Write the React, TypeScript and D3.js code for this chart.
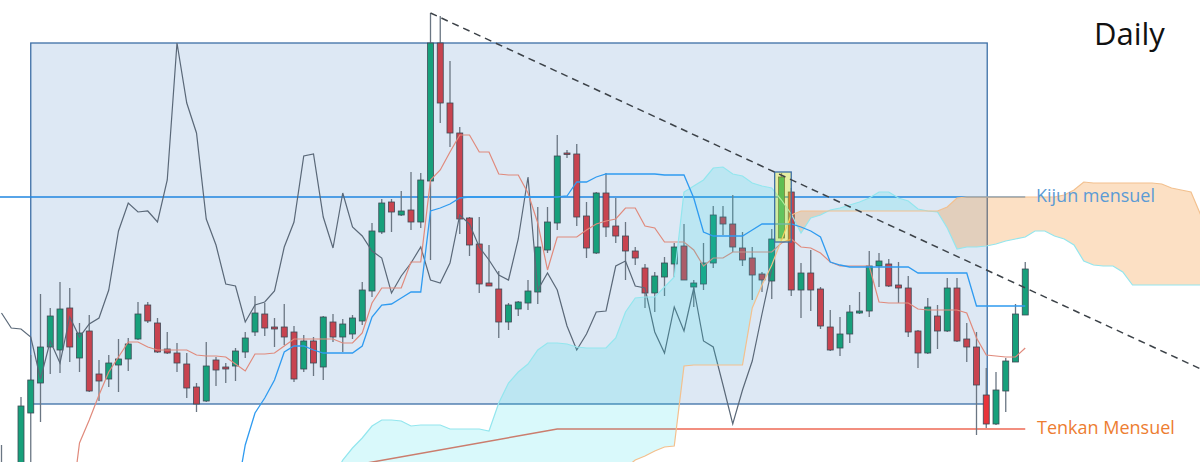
import { useEffect, useRef } from 'react';
import * as d3 from 'd3';

const W = 1200;
const H = 462;

// Bougies journalières (index 0..105), prix en unités du graphique
const opens = [
  -38, -28, -8, 49, 79, 115, 112, 154, 104, 131,
  88, 83, 97, 103, 123, 157, 139, 113, 109, 98,
  75, 61, 102, 95, 96, 110, 130, 148, 135, 135,
  130, 93, 121, 95, 140, 125, 128, 141, 171, 230,
  260, 247, 252, 240, 281, 419, 359, 329, 244, 218,
  179, 173, 140, 153, 159, 170, 212, 239, 309, 308,
  246, 209, 269, 236, 226, 211, 194, 169, 185, 198,
  216, 175, 178, 199, 245, 238, 214, 204, 188, 181,
  224, 270, 172, 189, 173, 135, 114, 128, 149, 151,
  196, 198, 177, 174, 131, 109, 146, 131, 174, 123,
  115, 67, 38, 71, 100, 147,
];
const highs = [
  17, -3, 65, 107, 168, 154, 180, 174, 139, 147,
  102, 107, 123, 124, 160, 160, 144, 130, 119, 109,
  79, 120, 105, 99, 114, 130, 166, 159, 144, 158,
  136, 127, 125, 146, 148, 143, 147, 180, 239, 263,
  263, 271, 290, 289, 449, 446, 401, 335, 245, 245,
  217, 191, 159, 161, 182, 255, 255, 327, 312, 318,
  260, 270, 289, 264, 240, 215, 198, 190, 205, 219,
  238, 182, 219, 256, 256, 267, 230, 215, 190, 233,
  289, 274, 199, 212, 175, 152, 145, 157, 170, 211,
  209, 203, 200, 186, 132, 164, 157, 184, 184, 139,
  130, 94, 90, 104, 158, 200,
];
const lows = [
  -48, -38, -18, -8, 40, 88, 89, 100, 90, 70,
  61, 75, 70, 91, 122, 139, 109, 108, 90, 64,
  50, 60, 76, 79, 81, 104, 126, 126, 115, 117,
  80, 90, 86, 82, 120, 110, 123, 137, 165, 228,
  230, 246, 232, 234, 202, 339, 315, 228, 206, 169,
  176, 124, 132, 146, 152, 158, 209, 232, 304, 236,
  204, 208, 225, 219, 182, 197, 154, 150, 166, 185,
  182, 155, 172, 194, 227, 210, 196, 162, 170, 163,
  222, 166, 144, 151, 133, 111, 106, 119, 148, 145,
  175, 175, 159, 125, 94, 108, 113, 130, 120, 100,
  27, 34, 37, 50, 100, 147,
];
const closes = [
  -8, -13, 56, 82, 115, 146, 153, 115, 129, 71,
  81, 99, 103, 118, 148, 141, 110, 109, 99, 74,
  58, 96, 92, 93, 111, 124, 149, 134, 133, 125,
  83, 121, 99, 145, 125, 138, 144, 172, 231, 259,
  250, 251, 240, 282, 419, 359, 329, 243, 217, 178,
  176, 140, 157, 160, 171, 215, 240, 306, 308, 245,
  214, 269, 235, 226, 211, 204, 169, 186, 199, 215,
  182, 179, 199, 247, 238, 215, 202, 187, 182, 223,
  285, 172, 189, 172, 136, 112, 128, 150, 151, 196,
  201, 176, 174, 130, 109, 155, 131, 174, 121, 115,
  77, 38, 72, 101, 148, 193,
];
const currentCandle = 101;

// Ichimoku journalier
const tenkanStart = 7;
const tenkan = [
  -58, 19, 42, 67, 90, 105, 120, 120, 115, 112,
  112, 112, 112, 107, 106, 106, 105, 98, 91, 108,
  108, 109, 116, 123, 123, 123, 123, 123, 119, 119,
  129, 159, 174, 174, 174, 200, 200, 282, 292, 310,
  327, 327, 310, 310, 288, 287, 287, 269, 239, 192,
  225, 225, 225, 232, 238, 241, 243, 254, 254, 236,
  234, 220, 220, 220, 212, 196, 204, 204, 210, 210,
  210, 210, 210, 219, 223, 215, 214, 209, 200, 196,
  196, 196, 196, 160, 159, 159, 159, 153, 152, 152,
  152, 152, 149, 124, 107, 106, 105, 105, 114,
];
const kijunStart = 24;
const kijun = [
  -38, 17, 49, 64, 82, 110, 116, 116, 112, 109,
  109, 109, 109, 116, 145, 157, 158, 164, 170, 170,
  251, 254, 258, 264, 265, 265, 265, 265, 265, 265,
  265, 265, 265, 265, 266, 280, 280, 285, 288, 288,
  288, 288, 288, 288, 287, 287, 287, 264, 230, 226,
  226, 226, 226, 232, 238, 238, 238, 238, 235, 231,
  225, 200, 197, 195, 195, 195, 195, 195, 195, 195,
  189, 189, 189, 189, 189, 189, 156, 156, 156, 156,
  156, 156,
];
const spanStart = 34;
const spanA = [
  -18, 2, 14, 24, 36, 42, 42, 41, 36, 37,
  37, 37, 33, 33, 33, 33, 31, 59, 79, 90,
  98, 112, 119, 119, 118, 115, 114, 114, 114, 124,
  150, 164, 165, 165, 175, 185, 270, 276, 282, 294,
  295, 288, 286, 279, 276, 274, 262, 248, 229, 244,
  247, 252, 254, 257, 260, 264, 270, 270, 264, 261,
  253, 251, 250, 234, 213, 215, 215, 216, 218, 221,
  223, 225, 231, 231, 226, 223, 217, 201, 197, 196,
  196, 190, 177, 177, 177, 177, 177, 177, 177, 177,
];
const spanB = [
  -28, -28, -28, -28, -28, -28, -28, -28, -28, -28,
  -28, -28, -28, -28, -28, -28, -28, -28, -28, -28,
  -28, -28, -28, -28, -28, -28, -28, -28, -28, -13,
  -6, 2, 6, 11, 15, 16, 96, 97, 97, 97,
  97, 97, 97, 154, 177, 197, 222, 247, 251, 251,
  251, 251, 251, 251, 251, 251, 251, 251, 251, 251,
  251, 251, 251, 255, 264, 265, 265, 265, 265, 265,
  265, 265, 265, 265, 265, 267, 272, 280, 279, 279,
  279, 279, 279, 279, 279, 278, 274, 272, 270, 247,
];
const chikouShift = 26;

// Niveaux mensuels
const kijunMensuelIdx = [-0.2, 105];
const kijunMensuel = [265, 265];
const tenkanMensuelIdx = [30, 57, 105];
const tenkanMensuel = [-14, 33, 33];

// Tracés
const boxIdx = [3, 101.1];
const boxPrice = [58, 419];
const highlightIdx = [79.3, 81];
const highlightPrice = [220, 290];
const trendIdx = [44, 123];
const trendPrice = [449, 93];

const App = () => {
  const svgRef = useRef<any>(null);

  useEffect(() => {
    const svg = d3.select(svgRef.current);
    svg.selectAll('*').remove();

    const x = d3.scaleLinear().domain([0, 105]).range([1.5, 1025.25]);
    const y = d3.scaleLinear().domain([0, 462]).range([H, 0]);
    const bodyW = 6;

    const defs = svg.append('defs');

    // rectangle bleu
    svg.append('rect')
      .attr('x', x(boxIdx[0]))
      .attr('y', y(boxPrice[1]))
      .attr('width', x(boxIdx[1]) - x(boxIdx[0]))
      .attr('height', y(boxPrice[0]) - y(boxPrice[1]))
      .attr('fill', '#dde8f4')
      .attr('stroke', '#3d6fa6')
      .attr('stroke-width', 1.3);

    // kijun mensuel
    svg.append('path')
      .attr('d', d3.line<number>().x((_, k) => x(kijunMensuelIdx[k])).y(d => y(d))(kijunMensuel))
      .attr('fill', 'none')
      .attr('stroke', '#1f86e0')
      .attr('stroke-width', 1.6);

    // tenkan mensuel
    svg.append('path')
      .attr('d', d3.line<number>().x((_, k) => x(tenkanMensuelIdx[k])).y(d => y(d))(tenkanMensuel))
      .attr('fill', 'none')
      .attr('stroke', '#ee6a55')
      .attr('stroke-width', 1.5);

    // bougies
    const g = svg.append('g');
    closes.forEach((c, i) => {
      const o = opens[i];
      const up = c >= o;
      g.append('line')
        .attr('x1', x(i)).attr('x2', x(i))
        .attr('y1', y(highs[i])).attr('y2', y(lows[i]))
        .attr('stroke', '#6a7683')
        .attr('stroke-width', 1.3);
      const top = y(Math.max(o, c));
      const hgt = Math.max(1.5, Math.abs(y(o) - y(c)));
      g.append('rect')
        .attr('x', x(i) - bodyW / 2)
        .attr('y', top)
        .attr('width', bodyW)
        .attr('height', hgt)
        .attr('fill', i === currentCandle ? '#e8333a' : up ? '#17a07b' : '#c8434f')
        .attr('stroke', '#3e4a56')
        .attr('stroke-width', 0.8);
    });

    // chikou
    const chikou = closes.slice(chikouShift);
    svg.append('path')
      .attr('d', d3.line<number>().x((_, k) => x(k)).y(d => y(d))(chikou))
      .attr('fill', 'none')
      .attr('stroke', '#5a6878')
      .attr('stroke-width', 1.2);

    // tenkan journalier
    svg.append('path')
      .attr('d', d3.line<number>().x((_, k) => x(tenkanStart + k)).y(d => y(d))(tenkan))
      .attr('fill', 'none')
      .attr('stroke', '#e08a7c')
      .attr('stroke-width', 1.2);

    // nuage
    const sx = (_: any, k: number) => x(spanStart + k);
    defs.append('clipPath').attr('id', 'cloudAbove')
      .append('path')
      .attr('d', d3.area<number>().x(sx).y0(-20).y1(d => y(d))(spanB));
    defs.append('clipPath').attr('id', 'cloudBelow')
      .append('path')
      .attr('d', d3.area<number>().x(sx).y0(d => y(d)).y1(H + 80)(spanB));

    const between = d3.area<number>().x(sx).y0((_, k) => y(spanB[k])).y1(d => y(d));
    svg.append('path')
      .attr('d', between(spanA))
      .attr('fill', 'rgba(30,220,230,0.17)')
      .attr('clip-path', 'url(#cloudAbove)');
    svg.append('path')
      .attr('d', between(spanA))
      .attr('fill', 'rgba(245,130,20,0.25)')
      .attr('clip-path', 'url(#cloudBelow)');
    svg.append('path')
      .attr('d', d3.line<number>().x(sx).y(d => y(d))(spanA))
      .attr('fill', 'none')
      .attr('stroke', '#93e6ee')
      .attr('stroke-width', 1.2);
    svg.append('path')
      .attr('d', d3.line<number>().x(sx).y(d => y(d))(spanB))
      .attr('fill', 'none')
      .attr('stroke', '#f3c08e')
      .attr('stroke-width', 1.2);

    // kijun journalier
    svg.append('path')
      .attr('d', d3.line<number>().x((_, k) => x(kijunStart + k)).y(d => y(d))(kijun))
      .attr('fill', 'none')
      .attr('stroke', '#2f9bf0')
      .attr('stroke-width', 1.3);

    // bougie surlignée
    svg.append('rect')
      .attr('x', x(highlightIdx[0]))
      .attr('y', y(highlightPrice[1]))
      .attr('width', x(highlightIdx[1]) - x(highlightIdx[0]))
      .attr('height', y(highlightPrice[0]) - y(highlightPrice[1]))
      .attr('fill', 'rgba(250,250,0,0.33)')
      .attr('stroke', '#3d6fa6')
      .attr('stroke-width', 1.3);

    // oblique
    svg.append('path')
      .attr('d', d3.line<number>().x((_, k) => x(trendIdx[k])).y(d => y(d))(trendPrice))
      .attr('fill', 'none')
      .attr('stroke', '#3c4248')
      .attr('stroke-width', 1.5)
      .attr('stroke-dasharray', '7,5');

    // textes
    const font = '"Open Sans", sans-serif';
    svg.append('text')
      .attr('x', 1094).attr('y', 45)
      .attr('font-family', font).attr('font-size', 31)
      .attr('fill', '#111')
      .text('Daily');
    svg.append('text')
      .attr('x', 1036).attr('y', y(kijunMensuel[1]) + 5)
      .attr('font-family', font).attr('font-size', 18)
      .attr('fill', '#5b9bd5')
      .text('Kijun mensuel');
    svg.append('text')
      .attr('x', 1037).attr('y', y(tenkanMensuel[2]) + 5)
      .attr('font-family', font).attr('font-size', 18)
      .attr('fill', '#ed7d31')
      .text('Tenkan Mensuel');
  }, []);

  return (
    <svg
      ref={svgRef}
      width={W}
      height={H}
      style={{ position: 'absolute', left: 0, top: 0, background: '#fff' }}
    />
  );
};

export default App;
